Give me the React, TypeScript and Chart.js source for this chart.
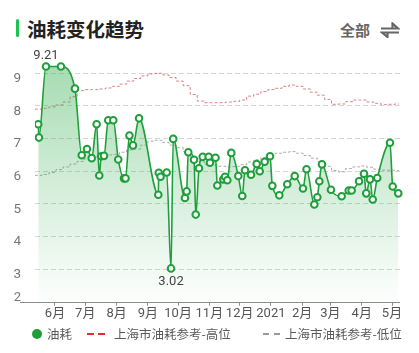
import React, { useEffect, useRef } from 'react';
import { Chart, registerables } from 'chart.js';

Chart.register(...registerables);

// ---- data ----
const monthTickDays = [0, 30, 61, 92, 122, 153, 183, 214, 245, 273, 304, 334];
const monthTickLabels = ['6月', '7月', '8月', '9月', '10月', '11月', '12月', '2021', '2月', '3月', '4月', '5月'];
const yTickValues = [2, 3, 4, 5, 6, 7, 8, 9];

// days counted from 2020-06-01
const fuelDays = [
  -16.6, -15.9, -8.9, 5.9, 19.8, 26.5, 31.7, 36.4, 41.3, 43.9, 45.9, 48.6, 52.8, 57.8, 62.7, 68.4, 69.9, 73.8,
  77.3, 83.3, 102.4, 102.8, 104.6, 110.7, 115, 117.2, 128.8, 130.5, 132.1, 137.8, 139.5, 142.7, 146.4, 152.3,
  153.6, 159.1, 160.9, 166.8, 168.5, 170.8, 174.7, 181.7, 185.6, 188.3, 194.3, 199.9, 202.9, 207.8, 213.1,
  215.4, 222.3, 230.2, 237.6, 245.8, 249.3, 257, 260, 262, 264.6, 273.5, 284.1, 291.1, 294, 301.3, 306.2,
  308.5, 312.2, 314.9, 319.4, 332, 334.7, 340.2,
];
const fuelValues = [
  7.44, 7.03, 9.21, 9.21, 8.53, 6.49, 6.68, 6.4, 7.44, 5.87, 6.46, 6.47, 7.56, 7.56, 6.36, 5.78, 5.78, 7.09,
  6.79, 7.62, 5.28, 5.95, 5.83, 5.96, 3.02, 6.99, 5.18, 5.38, 6.58, 6.35, 4.67, 6.09, 6.44, 6.44,
  6.26, 6.41, 5.56, 5.75, 5.83, 5.72, 6.56, 5.85, 5.24, 6.03, 5.89, 6.22, 6.0, 6.29, 6.46,
  5.55, 5.26, 5.6, 5.85, 5.47, 6.06, 4.98, 5.2, 5.69, 6.21, 5.43, 5.23, 5.41, 5.41, 5.69, 5.92,
  5.32, 5.75, 5.13, 5.79, 6.87, 5.53, 5.32,
];

const refDays = [
  -20, -13, -6, 1, 8, 15, 22, 29, 36, 43, 50, 57, 64, 71, 78, 85, 92, 99, 106, 113, 120, 127, 134, 141, 148,
  155, 162, 169, 176, 183, 190, 197, 204, 211, 218, 225, 232, 239, 246, 253, 260, 267, 274, 281, 288, 295,
  302, 309, 316, 323, 330, 337, 341,
];
const highRefValues = [
  7.9, 7.93, 7.97, 8.03, 8.12, 8.28, 8.47, 8.5, 8.5, 8.52, 8.55, 8.6, 8.67, 8.76, 8.84, 8.92, 8.98, 9.0, 8.95,
  8.87, 8.76, 8.62, 8.35, 8.15, 8.1, 8.1, 8.1, 8.12, 8.14, 8.18, 8.3, 8.36, 8.44, 8.5, 8.54, 8.6, 8.64, 8.6,
  8.52, 8.42, 8.33, 8.2, 8.05, 8.06, 8.13, 8.18, 8.18, 8.12, 8.08, 8.04, 8.05, 8.06, 8.06,
];
const lowRefValues = [
  5.87, 5.9, 5.96, 6.05, 6.13, 6.22, 6.3, 6.38, 6.44, 6.49, 6.5, 6.52, 6.58, 6.65, 6.68, 6.8, 6.92, 6.95, 6.88,
  6.8, 6.72, 6.6, 6.42, 6.3, 6.2, 6.18, 6.15, 6.13, 6.14, 6.2, 6.28, 6.35, 6.42, 6.48, 6.55, 6.58, 6.6, 6.55,
  6.48, 6.4, 6.3, 6.15, 6.02, 5.98, 6.08, 6.13, 6.16, 6.12, 6.06, 6.03, 6.03, 6.02, 6.02,
];

const seriesNames = ['油耗', '上海市油耗参考-高位', '上海市油耗参考-低位'];

const GREEN = '#1f9f3c';
const FONT = "Roboto, 'Noto Sans CJK SC', sans-serif";
const CJK = "'Noto Sans CJK SC', Roboto, sans-serif";

const extrasPlugin = {
  id: 'extras',
  afterDatasetsDraw(chart: any) {
    const { ctx } = chart;
    const meta = chart.getDatasetMeta(0);
    let maxI = 0;
    let minI = 0;
    fuelValues.forEach((v, i) => {
      if (v > fuelValues[maxI]) maxI = i;
      if (v < fuelValues[minI]) minI = i;
    });
    ctx.save();
    ctx.font = `13px ${FONT}`;
    ctx.fillStyle = '#444';
    ctx.textAlign = 'center';
    ctx.textBaseline = 'middle';
    const pMax = meta.data[maxI];
    const pMin = meta.data[minI];
    ctx.fillText(fuelValues[maxI].toFixed(2), pMax.x, pMax.y - 11);
    ctx.fillText(fuelValues[minI].toFixed(2), pMin.x, pMin.y + 13);
    ctx.restore();
  },
  afterDraw(chart: any) {
    const { ctx, scales } = chart;
    const yB = Math.round(scales.y.getPixelForValue(2)) + 0.5;
    ctx.save();
    ctx.strokeStyle = '#8c8c8c';
    ctx.lineWidth = 1;
    ctx.beginPath();
    ctx.moveTo(20, yB);
    ctx.lineTo(400, yB);
    ctx.stroke();
    ctx.font = `13px ${FONT}`;
    ctx.fillStyle = '#777';
    ctx.textAlign = 'right';
    ctx.textBaseline = 'middle';
    ctx.fillText(String(yTickValues[0]), 21, yB - 4.5);
    ctx.restore();
  },
};

export default function App() {
  const ref = useRef<HTMLCanvasElement>(null);

  useEffect(() => {
    const canvas = ref.current!;
    const chart = new Chart(canvas, {
      type: 'line',
      data: {
        datasets: [
          {
            label: seriesNames[0],
            data: fuelDays.map((d, i) => ({ x: d, y: fuelValues[i] })),
            borderColor: GREEN,
            borderWidth: 1.6,
            pointRadius: 3.3,
            pointBorderWidth: 2,
            pointBackgroundColor: '#ffffff',
            pointBorderColor: GREEN,
            cubicInterpolationMode: 'monotone',
            fill: 'start',
            backgroundColor: (c: any) => {
              const { chart: ch } = c;
              const area = ch.chartArea;
              if (!area) return 'rgba(31,159,60,0.3)';
              const g = ch.ctx.createLinearGradient(0, area.top + 15, 0, area.bottom - 8);
              g.addColorStop(0, 'rgba(40,170,70,0.42)');
              g.addColorStop(1, 'rgba(40,170,70,0.02)');
              return g;
            },
          },
          {
            label: seriesNames[1],
            data: refDays.map((d, i) => ({ x: d, y: highRefValues[i] })),
            borderColor: 'rgba(205,95,95,0.75)',
            borderWidth: 1,
            borderDash: [3, 2],
            pointRadius: 0,
            stepped: true,
            fill: false,
          },
          {
            label: seriesNames[2],
            data: refDays.map((d, i) => ({ x: d, y: lowRefValues[i] })),
            borderColor: 'rgba(160,160,160,0.85)',
            borderWidth: 1,
            borderDash: [3, 2],
            pointRadius: 0,
            stepped: true,
            fill: false,
          },
        ],
      },
      options: {
        responsive: false,
        animation: false,
        layout: { padding: { left: 0, right: 16, top: 47.2, bottom: 0 } },
        plugins: { legend: { display: false }, tooltip: { enabled: false } },
        scales: {
          x: {
            type: 'linear',
            min: -19.8,
            max: 344.9,
            afterBuildTicks: (s: any) => {
              s.ticks = monthTickDays.map((v) => ({ value: v }));
            },
            afterFit: (s: any) => {
              s.height = 23.3;
            },
            ticks: {
              autoSkip: false,
              maxRotation: 0,
              padding: 0,
              color: '#555',
              font: { family: FONT, size: 13 },
              callback: (v: any) => {
                const i = monthTickDays.indexOf(Number(v));
                return i >= 0 ? monthTickLabels[i] : '';
              },
            },
            grid: {
              drawOnChartArea: false,
              drawTicks: true,
              tickLength: 4,
              tickColor: '#8c8c8c',
              color: '#8c8c8c',
            },
            border: { display: false },
          },
          y: {
            type: 'linear',
            min: 2,
            max: 9.8,
            afterBuildTicks: (s: any) => {
              s.ticks = yTickValues.map((v) => ({ value: v }));
            },
            afterFit: (s: any) => {
              s.width = 35;
            },
            ticks: {
              padding: 14,
              labelOffset: 5.5,
              color: '#777',
              font: { family: FONT, size: 13.5 },
              callback: (v: any) => (Number(v) === yTickValues[0] ? '' : String(v)),
            },
            grid: {
              drawTicks: false,
              color: (c: any) => (c.tick && c.tick.value === yTickValues[0] ? 'rgba(0,0,0,0)' : '#d6d6d6'),
              lineWidth: 1,
            },
            border: { display: false, dash: [5, 3] },
          },
        },
      },
      plugins: [extrasPlugin],
    } as any);
    return () => chart.destroy();
  }, []);

  const legendText = {
    position: 'absolute' as const,
    top: 326,
    fontFamily: CJK,
    fontSize: 12.5,
    lineHeight: '16px',
    color: '#5a5a5a',
    whiteSpace: 'nowrap' as const,
  };

  return (
    <div style={{ position: 'absolute', left: 0, top: 0, width: 419, height: 353, background: '#fff', overflow: 'hidden' }}>
      <div style={{ position: 'absolute', left: 15.5, top: 19, width: 3.5, height: 18, borderRadius: 2, background: '#1ec24f' }} />
      <div
        style={{
          position: 'absolute',
          left: 27,
          top: 18,
          fontFamily: CJK,
          fontSize: 19.5,
          fontWeight: 700,
          lineHeight: '22px',
          color: '#222',
          whiteSpace: 'nowrap',
        }}
      >
        油耗变化趋势
      </div>
      <div
        style={{
          position: 'absolute',
          left: 340,
          top: 20,
          fontFamily: CJK,
          fontSize: 15,
          fontWeight: 700,
          lineHeight: '20px',
          color: '#666',
          whiteSpace: 'nowrap',
        }}
      >
        全部
      </div>
      <svg style={{ position: 'absolute', left: 380, top: 22 }} width="20" height="16" viewBox="0 0 20 16">
        <path d="M1 6.5 H18 L12.5 1.5 V6.5" fill="none" stroke="#666" strokeWidth="2.2" strokeLinejoin="miter" />
        <path d="M19 10.5 H2 L7.5 15 V10.5" fill="none" stroke="#666" strokeWidth="2.2" strokeLinejoin="miter" />
      </svg>
      <canvas ref={ref} width={419} height={325} style={{ position: 'absolute', left: 0, top: 0, width: 419, height: 325 }} />
      <div style={{ position: 'absolute', left: 32, top: 329, width: 10, height: 10, borderRadius: 5, background: GREEN }} />
      <div style={{ ...legendText, left: 47 }}>{seriesNames[0]}</div>
      <div style={{ position: 'absolute', left: 87, top: 333, width: 7, height: 2, background: '#e03030' }} />
      <div style={{ position: 'absolute', left: 98, top: 333, width: 7, height: 2, background: '#e03030' }} />
      <div style={{ ...legendText, left: 114 }}>{seriesNames[1]}</div>
      <div style={{ position: 'absolute', left: 263, top: 333, width: 6, height: 1.5, background: '#999' }} />
      <div style={{ position: 'absolute', left: 274, top: 333, width: 6, height: 1.5, background: '#999' }} />
      <div style={{ ...legendText, left: 285 }}>{seriesNames[2]}</div>
    </div>
  );
}
